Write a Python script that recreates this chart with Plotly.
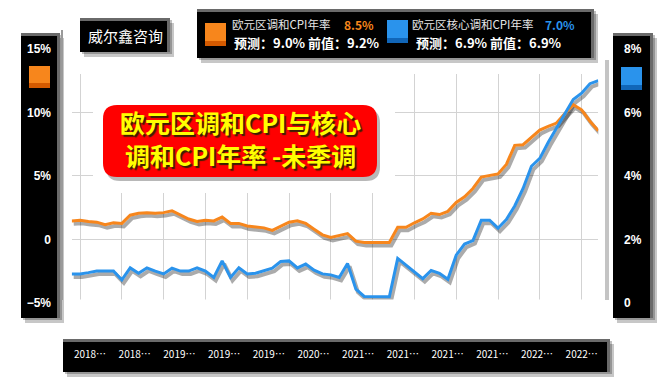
import plotly.graph_objects as go

W, H = 668, 390

# ---------------- data ----------------
months = [f"{y}-{m:02d}" for y in range(2017, 2024) for m in range(1, 13)][9:9 + 64]  # 2017-10 .. 2023-01

hicp = [1.45, 1.5, 1.4, 1.35, 1.15, 1.3, 1.25, 1.9, 2.05, 2.1, 2.05, 2.1, 2.25, 1.9, 1.6,
        1.4, 1.5, 1.45, 1.75, 1.25, 1.25, 1.05, 1.0, 0.9, 0.7, 1.0, 1.35,
        1.45, 1.25, 0.8, 0.35, 0.15, 0.3, 0.45, -0.15, -0.25, -0.25, -0.25, -0.25,
        0.95, 0.95, 1.3, 1.6, 2.05, 1.95, 2.2, 2.9, 3.35, 4.0, 4.9, 5.05,
        5.15, 5.9, 7.4, 7.45, 8.05, 8.6, 8.9, 9.15, 9.9, 10.6, 10.2, 9.3,
        8.55]

core = [0.91, 0.91, 0.95, 1.0, 1.0, 1.0, 0.72, 1.1, 0.93, 1.1, 1.0, 0.91, 1.09, 1.0, 1.0,
        1.1, 1.0, 0.8, 1.32, 0.8, 1.1, 0.91, 0.93, 1.0, 1.09, 1.3, 1.32,
        1.1, 1.22, 1.03, 0.91, 0.88, 0.8, 1.24, 0.43, 0.2, 0.19, 0.19, 0.19,
        1.4, 1.19, 0.98, 0.76, 1.02, 0.93, 0.74, 1.5, 1.85, 1.96, 2.6, 2.6,
        2.35, 2.62, 3.05, 3.6, 4.3, 4.55, 5.05, 5.5, 5.95, 6.4, 6.6, 6.9,
        7.0]

x_labels = ["2018…", "2018…", "2019…", "2019…", "2019…", "2020…",
            "2021…", "2021…", "2021…", "2021…", "2022…", "2022…"]
left_ticks = [-5, 0, 5, 10, 15]
left_text = ["−5%", "0", "5%", "10%", "15%"]
right_ticks = [0, 2, 4, 6, 8]
right_text = ["0", "2%", "4%", "6%", "8%"]

series_names = ["欧元区调和CPI年率", "欧元区核心调和CPI年率"]
latest = [8.5, 7.0]
forecast = [9.0, 6.9]
previous = [9.2, 6.9]

title_lines = ["欧元区调和CPI与核心", "调和CPI年率 -未季调"]
brand = "威尔鑫咨询"

# ---------------- styling ----------------
ORANGE = "#F7861C"
ORANGE_D = "#D45A00"
BLUE = "#2A93EC"
BLUE_D = "#1166B8"
FONT = "Noto Sans CJK SC"


def fx(p):
    return p / W


def fy(p):
    return 1 - p / H


# plot area (pixels)
X0, X1 = 71.7, 598.3
YT, YB = 48.8, 302.8          # pixel rows of 15% and -5%
L_RANGE = [-5, 15]
R_RANGE = [0, 8]
n = len(months)
ppi = (X1 - X0) / (n - 1)
dx, dy = 2.0, 3.0
lpp = (L_RANGE[1] - L_RANGE[0]) / (YB - YT)
rpp = (R_RANGE[1] - R_RANGE[0]) / (YB - YT)
lab_spacing = 44.7
lab_first = 90.0

fig = go.Figure()

# shadows (base subplot with slightly shifted ranges)
fig.add_trace(go.Scatter(x=months, y=hicp, mode="lines", xaxis="x", yaxis="y",
                         line=dict(color="rgba(0,0,0,0.33)", width=4), hoverinfo="skip"))
fig.add_trace(go.Scatter(x=months, y=core, mode="lines", xaxis="x", yaxis="y2",
                         line=dict(color="rgba(0,0,0,0.33)", width=4), hoverinfo="skip"))
# main lines
fig.add_trace(go.Scatter(x=months, y=hicp, mode="lines", xaxis="x3", yaxis="y3",
                         name=series_names[0], line=dict(color=ORANGE, width=3)))
fig.add_trace(go.Scatter(x=months, y=core, mode="lines", xaxis="x3", yaxis="y4",
                         name=series_names[1], line=dict(color=BLUE, width=3)))
# invisible carrier for the bottom label axis
fig.add_trace(go.Scatter(x=list(range(len(x_labels))), y=[None] * len(x_labels),
                         mode="lines", xaxis="x2", yaxis="y3", hoverinfo="skip"))

cat = dict(type="category", categoryorder="array", categoryarray=months)
lab_font = dict(color="white", size=12, family="Liberation Sans", weight="bold")

fig.update_layout(
    width=W, height=H,
    margin=dict(l=0, r=0, t=0, b=0, autoexpand=False),
    paper_bgcolor="white", plot_bgcolor="white",
    showlegend=False, hovermode=False,
    font=dict(family=FONT),
    xaxis=dict(domain=[fx(X0), fx(X1)], range=[-dx / ppi, n - 1 - dx / ppi],
               anchor="y", visible=False, **cat),
    yaxis=dict(domain=[fy(YB), fy(YT)],
               range=[L_RANGE[0] + dy * lpp, L_RANGE[1] + dy * lpp],
               anchor="x", visible=False),
    yaxis2=dict(overlaying="y", anchor="x",
                range=[R_RANGE[0] + dy * rpp, R_RANGE[1] + dy * rpp], visible=False),
    xaxis3=dict(overlaying="x", anchor="y", range=[0, n - 1], tickvals=months[1::5],
                showgrid=True, gridcolor="#d3d3d3", gridwidth=1, zeroline=False,
                showline=False, ticks="", showticklabels=False, **cat),
    yaxis3=dict(overlaying="y", anchor="free", position=fx(51), side="left",
                range=L_RANGE, tickvals=left_ticks, ticktext=left_text,
                showgrid=True, gridcolor="#d3d3d3", gridwidth=1, zeroline=False,
                showline=False, ticks="", tickfont=lab_font),
    yaxis4=dict(overlaying="y", anchor="free", position=fx(623), side="right",
                range=R_RANGE, tickvals=right_ticks, ticktext=right_text,
                showgrid=False, zeroline=False, showline=False, ticks="",
                tickfont=lab_font),
    xaxis2=dict(overlaying="x", anchor="free", position=fy(347), side="bottom",
                range=[(X0 - lab_first) / lab_spacing, (X1 - lab_first) / lab_spacing],
                tickvals=list(range(len(x_labels))), ticktext=x_labels,
                showgrid=False, zeroline=False, showline=False, ticks="", tickangle=0,
                tickfont=dict(color="white", size=10, family=FONT)),
)

shapes = []


def rect(x0, y0, x1, y1, color, layer="above"):
    shapes.append(dict(type="rect", xref="paper", yref="paper", layer=layer,
                       x0=fx(x0), x1=fx(x1), y0=fy(y1), y1=fy(y0),
                       fillcolor=color, line=dict(width=0)))


def rrect_path(x0, y0, x1, y1, r):
    return (f"M {fx(x0 + r)},{fy(y0)} L {fx(x1 - r)},{fy(y0)} "
            f"Q {fx(x1)},{fy(y0)} {fx(x1)},{fy(y0 + r)} L {fx(x1)},{fy(y1 - r)} "
            f"Q {fx(x1)},{fy(y1)} {fx(x1 - r)},{fy(y1)} L {fx(x0 + r)},{fy(y1)} "
            f"Q {fx(x0)},{fy(y1)} {fx(x0)},{fy(y1 - r)} L {fx(x0)},{fy(y0 + r)} "
            f"Q {fx(x0)},{fy(y0)} {fx(x0 + r)},{fy(y0)} Z")


def bevel_box(x0, y0, x1, y1, layer="above"):
    rect(x0 + 4, y0 + 5, x1 + 4, y1 + 5, "rgba(0,0,0,0.22)", layer)
    rect(x0 + 2, y0 + 2, x1 + 2, y1 + 2, "rgba(0,0,0,0.25)", layer)
    rect(x0, y0, x1, y1, "#6a6a6a", layer)
    rect(x0, y0 + 3, x1 - 3, y1, "#000000", layer)


# boxes that carry axis labels sit below the axes
bevel_box(21, 33, 60, 318, "below")     # left axis
bevel_box(613, 33, 653, 318, "below")   # right axis
bevel_box(63, 339, 610, 372, "below")   # x labels
rect(29, 66, 50, 88, ORANGE, "below")
rect(29, 83, 50, 88, ORANGE_D, "below")
rect(621, 67, 642, 90, BLUE, "below")
rect(621, 85, 642, 90, BLUE_D, "below")

# trim grid to the reference's plot band (74..298 px)
rect(65, 40, 606, 74, "white")
rect(65, 299.5, 606, 312, "white")

# plot frame decoration
shapes.append(dict(type="line", xref="paper", yref="paper", layer="above",
                   x0=fx(62), x1=fx(62), y0=fy(30), y1=fy(300),
                   line=dict(color="#9a9a9a", width=2)))
shapes.append(dict(type="line", xref="paper", yref="paper", layer="above",
                   x0=fx(607), x1=fx(607), y0=fy(60), y1=fy(300),
                   line=dict(color="#c4c4c4", width=4)))

# white halo + red title blob
rect(93, 74, 395, 193, "white")
shapes.append(dict(type="path", xref="paper", yref="paper", layer="above",
                   path=rrect_path(106, 109, 380, 181, 14),
                   fillcolor="rgba(0,0,0,0.28)", line=dict(width=0)))
shapes.append(dict(type="path", xref="paper", yref="paper", layer="above",
                   path=rrect_path(103, 105, 377, 177, 14),
                   fillcolor="#FF0000", line=dict(width=0)))

# legend and brand boxes
bevel_box(197, 9, 594, 58)     # legend
bevel_box(80, 18, 170, 52)     # brand
rect(205, 23, 226, 46, ORANGE)
rect(205, 41, 226, 46, ORANGE_D)
rect(387, 20, 408, 43, BLUE)
rect(387, 38, 408, 43, BLUE_D)

annotations = []


def ann(x, y, text, size, color, xanchor="left", bold=False):
    annotations.append(dict(x=fx(x), y=fy(y), xref="paper", yref="paper", text=text,
                            showarrow=False, xanchor=xanchor, yanchor="middle",
                            font=dict(size=size, color=color, family=FONT,
                                      weight="bold" if bold else "normal")))


ann(230, 24, series_names[0], 11.5, "#e6e6e6")
ann(342, 24, f"{latest[0]:.1f}%", 12, ORANGE, bold=True)
ann(232, 42, f"预测：{forecast[0]:.1f}% 前值：{previous[0]:.1f}%", 13, "white", bold=True)
ann(410, 24, series_names[1], 11.5, "#e6e6e6")
ann(543, 24, f"{latest[1]:.1f}%", 12, BLUE, bold=True)
ann(414, 42, f"预测：{forecast[1]:.1f}% 前值：{previous[1]:.1f}%", 13, "white", bold=True)
ann(125, 35, brand, 15, "white", xanchor="center")
annotations.append(dict(x=fx(240), y=fy(138), xref="paper", yref="paper",
                        text="<br>".join(title_lines), showarrow=False,
                        xanchor="center", yanchor="middle", align="center",
                        font=dict(size=25, color="#FFFF00", family=FONT, weight="bold",
                                  shadow="2px 2px 1px #3a2000")))

fig.update_layout(shapes=shapes, annotations=annotations)

fig.write_html("out.html", config={"displayModeBar": False},
               post_script="document.body.style.margin='0px';")
